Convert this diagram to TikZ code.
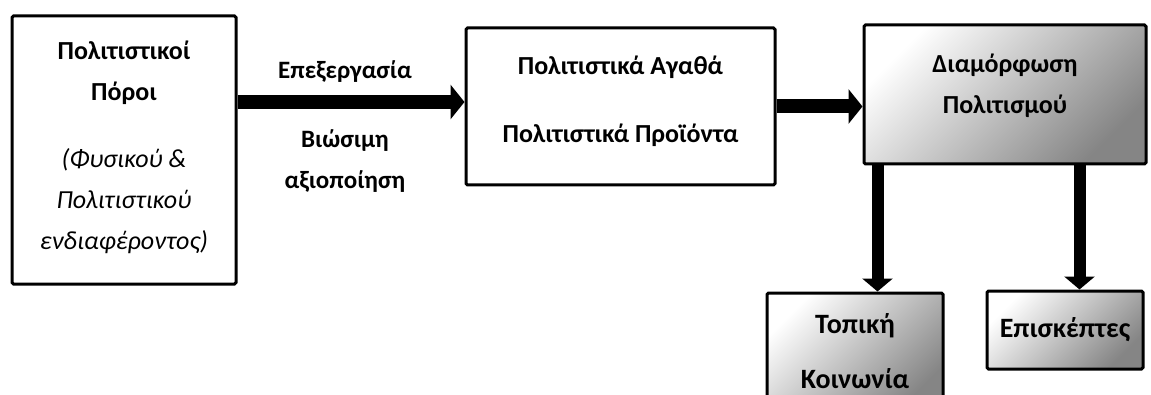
\documentclass[tikz,border=0pt]{standalone}
\usepackage{fontspec}
\setmainfont{Carlito}
\usetikzlibrary{arrows.meta}

\newcommand{\plainit}[1]{{\mdseries\itshape #1}}

\tikzset{
    plainbox/.style={draw, line width=3pt, rounded corners=1.5pt, fill=white,
        align=center, font=\fontsize{26}{41}\selectfont\bfseries, inner sep=0pt},
    shadebox/.style={plainbox, top color=white, bottom color=black!48, shading angle=45},
    smallbox/.style={shadebox, font=\fontsize{28}{41}\selectfont\bfseries},
    bigarrow/.style={line width=14pt, -{Triangle[length=14pt,width=34pt]}},
    downarrow/.style={line width=12pt, -{Triangle[length=13pt,width=30pt]}},
    lbl/.style={align=center, font=\fontsize{25}{41}\selectfont\bfseries}
}

\begin{document}
\begin{tikzpicture}[x=1pt, y=1pt]
    \clip (0,0) rectangle (1151,394);

    % Κουτιά
    \node[plainbox, minimum width=224pt, minimum height=268pt] (poroi) at (124,244)
        {Πολιτιστικοί\\Πόροι\\[26pt]\plainit{(Φυσικού \&}\\\plainit{Πολιτιστικού}\\\plainit{ενδιαφέροντος)}\rule[-10pt]{0pt}{10pt}};
    \node[plainbox, minimum width=309pt, minimum height=157pt] (agatha) at (620.5,287.5)
        {Πολιτιστικά Αγαθά\\[27pt]Πολιτιστικά Προϊόντα\rule[-15pt]{0pt}{15pt}};
    \node[shadebox, minimum width=282pt, minimum height=139pt] (diamorfosi) at (1005,299.5)
        {Διαμόρφωση\\Πολιτισμού\rule[-21pt]{0pt}{21pt}};
    \node[smallbox, minimum width=176pt, minimum height=117pt] (koinonia) at (855,42.5)
        {Τοπική\\[14pt]Κοινωνία};
    \node[smallbox, minimum width=156pt, minimum height=78pt] (episkeptes) at (1065,64)
        {Επισκέπτες};

    % Βέλη
    \coordinate (a1) at ([yshift=4.5pt]agatha.west);
    \draw[bigarrow] (a1 -| poroi.east) -- (a1);
    \draw[bigarrow] (agatha.east) -- (agatha.east -| diamorfosi.west);
    \coordinate (d1) at ([xshift=15pt]diamorfosi.south west);
    \coordinate (d2) at ([xshift=-68pt]diamorfosi.south east);
    \draw[downarrow] (d1) -- (d1 |- koinonia.north);
    \draw[downarrow] (d2) -- (d2 |- episkeptes.north);

    % Ετικέτες
    \node[lbl] (epexergasia) at (345,322) {Επεξεργασία};
    \node[lbl] (aksiopoiisi) at (345,233) {Βιώσιμη\\αξιοποίηση};
\end{tikzpicture}
\end{document}
